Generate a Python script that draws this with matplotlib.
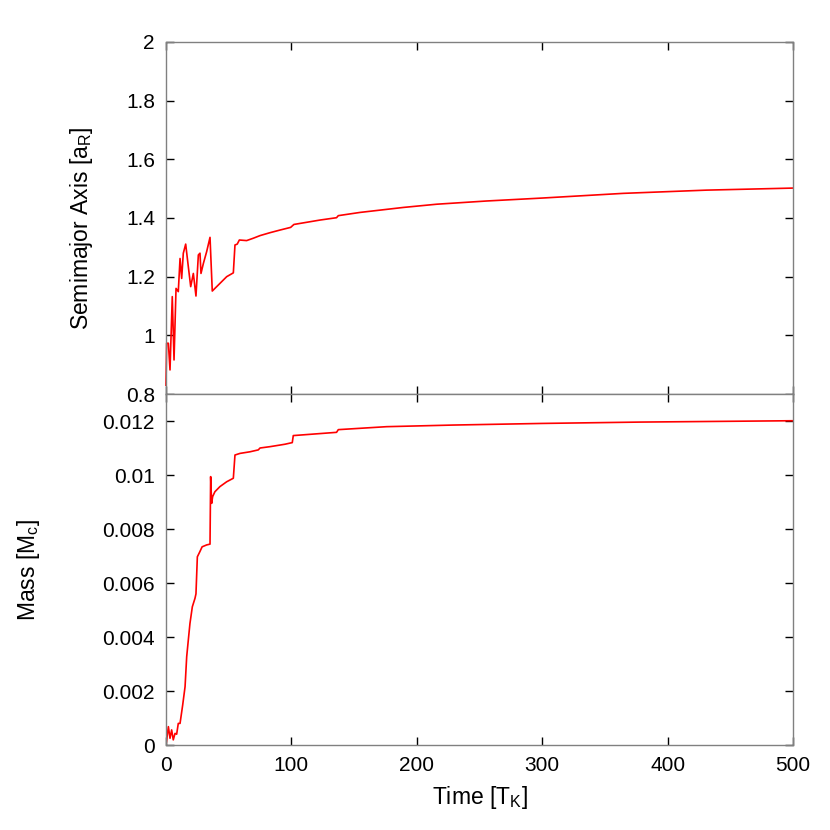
import matplotlib
matplotlib.use("Agg")
import matplotlib.pyplot as plt

plt.rcParams['font.family'] = ['Liberation Sans', 'DejaVu Sans']
plt.rcParams['mathtext.fontset'] = 'custom'
plt.rcParams['mathtext.rm'] = 'Liberation Sans'

# semimajor axis vs time
t_a = [0, 0.5, 1.9, 3.2, 5, 6.4, 8, 9.8, 11.2, 12.5, 13.8, 15.7, 17.8, 19.7,
       21.8, 23.9, 25.8, 27.1, 27.9, 29.8, 32.4, 35.1, 36.9, 39, 43, 48.4,
       53.7, 55, 56.8, 58.5, 64.3, 69.6, 75, 83, 91, 99.4, 102, 122.8, 136,
       137.4, 154.7, 189.3, 215.9, 255.8, 300, 364.7, 431, 500]
semimajor = [0.83, 0.973, 0.973, 0.882, 1.132, 0.916, 1.16, 1.149, 1.262,
             1.194, 1.28, 1.311, 1.234, 1.166, 1.211, 1.134, 1.274, 1.28,
             1.211, 1.245, 1.285, 1.334, 1.151, 1.16, 1.177, 1.2, 1.213,
             1.308, 1.311, 1.325, 1.323, 1.331, 1.34, 1.35, 1.359, 1.368,
             1.378, 1.393, 1.401, 1.408, 1.419, 1.436, 1.447, 1.458, 1.468,
             1.484, 1.495, 1.502]

# mass vs time
t_m = [0, 1.9, 3.2, 4.5, 5.8, 7.2, 8.5, 9.8, 11.2, 13.3, 15.2, 16.5, 17.8,
       19.1, 21, 23.1, 23.9, 25, 27, 28.8, 32.4, 35.1, 35.6, 36.4, 37.2, 39,
       43, 48.4, 53.7, 55, 59, 67, 73.6, 75, 83, 91, 94.9, 100.7, 101.5, 136,
       137.4, 176, 229, 300, 378, 500]
mass = [0, 0.00068, 0.00025, 0.00056, 0.00019, 0.00043, 0.0004, 0.0008,
        0.0008, 0.00148, 0.00216, 0.00327, 0.00389, 0.0045, 0.00512, 0.00543,
        0.0056, 0.00697, 0.00716, 0.00734, 0.00741, 0.00744, 0.00994,
        0.00895, 0.0092, 0.00938, 0.00957, 0.00975, 0.00988, 0.01074, 0.0108,
        0.01086, 0.01093, 0.011, 0.01105, 0.01111, 0.01114, 0.0112, 0.01146,
        0.01158, 0.01168, 0.01179, 0.01185, 0.01191, 0.01196, 0.01201]

fig = plt.figure(figsize=(8.3, 8.3), dpi=100)
ax1 = fig.add_axes([0.2, 0.5253, 0.7554, 0.4241])
ax2 = fig.add_axes([0.2, 0.1024, 0.7554, 0.4229])

ax1.plot(t_a, semimajor, color='#ff0000', lw=1.2, clip_on=False)
ax2.plot(t_m, mass, color='#ff0000', lw=1.2)

ax1.set_xlim(0, 500)
ax1.set_ylim(0.8, 2.0)
ax1.set_yticks([0.8, 1.0, 1.2, 1.4, 1.6, 1.8, 2.0])
ax1.set_yticklabels(['0.8', '1', '1.2', '1.4', '1.6', '1.8', '2'])
ax1.set_xticks([0, 100, 200, 300, 400, 500])
ax1.set_xticklabels([])

ax2.set_xlim(0, 500)
ax2.set_ylim(0, 0.013)
ax2.set_yticks([0, 0.002, 0.004, 0.006, 0.008, 0.01, 0.012])
ax2.set_yticklabels(['0', '0.002', '0.004', '0.006', '0.008', '0.01', '0.012'])
ax2.set_xticks([0, 100, 200, 300, 400, 500])

for ax in (ax1, ax2):
    for s in ax.spines.values():
        s.set_color('#808080')
        s.set_linewidth(1.0)
    ax.tick_params(direction='in', top=True, right=True, length=6,
                   width=1.0, labelsize=15, pad=8, color='black')

ax1.set_ylabel('Semimajor Axis [a$_\\mathrm{R}$]', fontsize=16.5)
ax1.yaxis.set_label_coords(-0.113, 0.47)
ax2.set_ylabel('Mass [M$_\\mathrm{c}$]', fontsize=16.5)
ax2.yaxis.set_label_coords(-0.197, 0.5)
ax2.set_xlabel('Time [T$_\\mathrm{K}$]', fontsize=16.5)
ax2.xaxis.set_label_coords(0.5, -0.112)

fig.savefig('out.png', dpi=100)
